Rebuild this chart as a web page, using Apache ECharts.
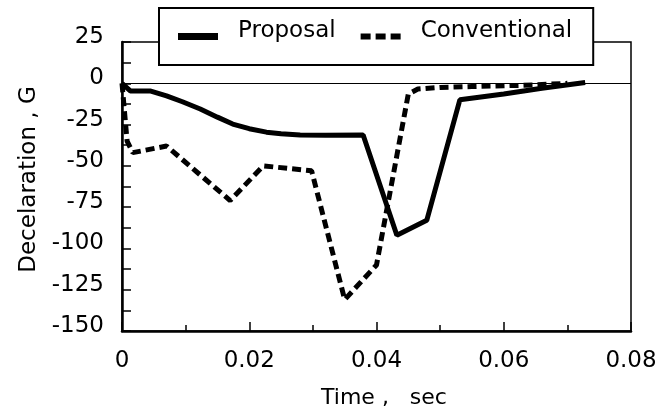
<!DOCTYPE html>
<html><head><meta charset="utf-8">
<script src="https://cdn.jsdelivr.net/npm/echarts@6/dist/echarts.min.js"></script>
<style>html,body{margin:0;padding:0;background:#fff}#c{width:670px;height:414px}</style>
</head><body><div id="c"></div>
<script>
const proposalT = [0, 0.0013, 0.0044, 0.007, 0.0095, 0.0123, 0.015, 0.0174, 0.02, 0.0227, 0.025, 0.028, 0.032, 0.0379, 0.0432, 0.0479, 0.0531, 0.06, 0.066, 0.0728];
const proposalV = [0, -4.6, -4.6, -7.6, -11.2, -15.6, -20.5, -24.7, -27.5, -29.6, -30.5, -31.3, -31.5, -31.3, -92, -83, -10, -6.5, -3, 0.5];
const conventionalT = [0, 0.0008, 0.0017, 0.007, 0.017, 0.0222, 0.0298, 0.035, 0.040, 0.045, 0.0465, 0.05, 0.055, 0.06, 0.065, 0.07];
const conventionalV = [0, -35, -42, -38, -71, -50, -53, -131, -110, -6.5, -3.5, -2.5, -2, -1.5, -1, 0];
const seriesNames = ['Proposal', 'Conventional'];
const xTicks = [0, 0.02, 0.04, 0.06, 0.08];
const yTicks = [-150, -125, -100, -75, -50, -25, 0, 25];

const FONT = 'DejaVu Sans';
const chart = echarts.init(document.getElementById('c'), null, {renderer: 'canvas'});
const zip = (a, b) => a.map((t, i) => [t, b[i]]);
chart.setOption({
  animation: false,
  textStyle: {fontFamily: FONT, color: '#000'},
  grid: {left: 122, right: 39, top: 42, bottom: 81, show: true, borderColor: '#000', borderWidth: 1.5, backgroundColor: 'transparent'},
  legend: {
    show: true,
    left: 159, top: 8,
    backgroundColor: '#fff', borderColor: '#000', borderWidth: 2,
    padding: [12, 21, 12, 19],
    itemWidth: 40, itemHeight: 7, itemGap: 25,
    formatter: name => '{t|' + name + '}',
    textStyle: {
      fontFamily: FONT, fontSize: 23, color: '#000',
      rich: {t: {fontFamily: FONT, fontSize: 23, lineHeight: 23, color: '#000', padding: [0, 0, 10, 15]}}
    },
    data: [
      {name: seriesNames[0], icon: 'rect', itemStyle: {color: '#000'}},
      {name: seriesNames[1], icon: 'path://M0,0h10v6h-10z M15,0h10v6h-10z M30,0h10v6h-10z', itemStyle: {color: '#000'}}
    ]
  },
  xAxis: {
    type: 'value', min: xTicks[0], max: xTicks[xTicks.length - 1], interval: 0.02,
    axisLine: {onZero: false, lineStyle: {color: '#000', width: 2.5}},
    axisTick: {inside: true, length: 9, lineStyle: {color: '#000', width: 1.5}},
    minorTick: {show: true, splitNumber: 2, length: 6, lineStyle: {color: '#000', width: 1.5}},
    splitLine: {show: false},
    axisLabel: {fontFamily: FONT, fontSize: 23, color: '#000', margin: 19,
      formatter: v => v === 0 ? '0' : v.toFixed(2)},
    name: 'Time ,   sec', nameLocation: 'middle', nameGap: 56,
    nameTextStyle: {fontFamily: FONT, fontSize: 22, color: '#000', padding: [0, 0, 0, 15]}
  },
  yAxis: {
    type: 'value', min: yTicks[0], max: yTicks[yTicks.length - 1], interval: 25,
    axisLine: {onZero: false, lineStyle: {color: '#000', width: 2.5}},
    axisTick: {inside: true, length: 9, lineStyle: {color: '#000', width: 1.5}},
    minorTick: {show: true, splitNumber: 2, length: 9, lineStyle: {color: '#000', width: 1.5}},
    splitLine: {show: false},
    axisLabel: {fontFamily: FONT, fontSize: 23, color: '#000', margin: 18, verticalAlign: 'bottom', lineHeight: 10},
    name: 'Decelaration , G', nameLocation: 'middle', nameGap: 80, nameRotate: 90,
    nameTextStyle: {fontFamily: FONT, fontSize: 23, color: '#000', padding: [0, 0, 0, 14]}
  },
  series: [
    {
      name: seriesNames[0], type: 'line', data: zip(proposalT, proposalV),
      showSymbol: false, symbol: 'none', z: 3,
      lineStyle: {color: '#000', width: 5, type: 'solid'},
      itemStyle: {color: '#000'},
      markLine: {silent: true, symbol: 'none', label: {show: false},
        lineStyle: {color: '#000', width: 1.2, type: 'solid'}, data: [{yAxis: 0}]}
    },
    {
      name: seriesNames[1], type: 'line', data: zip(conventionalT, conventionalV),
      showSymbol: false, symbol: 'none', z: 2,
      lineStyle: {color: '#000', width: 5, type: [9, 5]},
      itemStyle: {color: '#000'}
    }
  ]
});
</script></body></html>
